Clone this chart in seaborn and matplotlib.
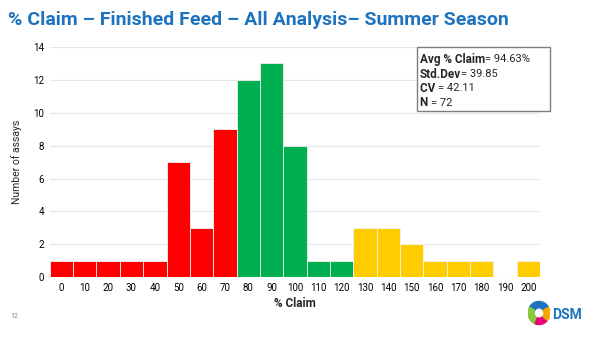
import matplotlib
matplotlib.use("Agg")
import matplotlib.pyplot as plt
import seaborn as sns
import pandas as pd
from matplotlib.patches import Rectangle, Wedge

claim_bins = [0, 10, 20, 30, 40, 50, 60, 70, 80, 90, 100, 110, 120, 130, 140, 150, 160, 170, 180, 190, 200]
counts = [1, 1, 1, 1, 1, 7, 3, 9, 12, 13, 8, 1, 1, 3, 3, 2, 1, 1, 1, 0, 1]
zone = ["low"] * 8 + ["ok"] * 5 + ["high"] * 8
zone_colors = {"low": "#FF0000", "ok": "#00B050", "high": "#FFCC00"}
stats_labels = ["Avg % Claim", "Std.Dev", "CV ", "N "]
stats_values = ["= 94.63%", "= 39.85", "= 42.11", "= 72"]

sns.set_theme(style="white")
plt.rcParams['font.family'] = ['Roboto', 'DejaVu Sans']

df = pd.DataFrame({"bin": [str(b) for b in claim_bins], "count": counts, "zone": zone})

fig = plt.figure(figsize=(6, 3.38), dpi=100)
ax = fig.add_axes([0.083, 0.180, 0.817, 0.681])
sns.barplot(data=df, x="bin", y="count", hue="zone", palette=zone_colors,
            width=1.0, dodge=False, legend=False, ax=ax, saturation=1,
            edgecolor="#f2f2f2", linewidth=0.6, order=df["bin"])
ax.set_xlim(-0.5, len(claim_bins) - 0.5)
ax.set_ylim(0, 14)
ax.set_yticks(range(0, 15, 2))
ax.yaxis.grid(True, color="#e6e6e6", linewidth=0.8)
ax.set_axisbelow(True)
for s in ax.spines.values():
    s.set_visible(False)
ax.tick_params(axis="both", labelsize=7, length=0, pad=4, colors="black")
ax.set_xlabel("% Claim", fontsize=8.5, fontweight="bold", labelpad=3)
ax.set_ylabel("Number of assays", fontsize=7.5, labelpad=8)

fig.text(8/600, 1 - 20/338, "% Claim \u2013 Finished Feed \u2013 All Analysis\u2013 Summer Season",
         fontsize=14, fontweight="bold", color="#1F73BE", va="center", ha="left")
fig.text(10/600, 1 - 316/338, "12", fontsize=5, color="#888888", va="center")

# stats box
bx0, by0, bx1, by1 = 417/600, 1 - 111/338, 550/600, 1 - 47/338
fig.patches.append(Rectangle((bx0, by0), bx1 - bx0, by1 - by0, transform=fig.transFigure,
                             facecolor="white", edgecolor="#7f7f7f", linewidth=1.0, zorder=5))
fig.canvas.draw()
renderer = fig.canvas.get_renderer()
line_h = 14.5 / 338
for i, (lab, val) in enumerate(zip(stats_labels, stats_values)):
    y = 1 - (59.5 / 338) - i * line_h
    t = fig.text(420/600, y, lab, fontsize=8.5, fontweight="bold", va="center", ha="left", zorder=6)
    bb = t.get_window_extent(renderer)
    x1 = fig.transFigure.inverted().transform((bb.x1, bb.y0))[0]
    fig.text(x1, y, val, fontsize=8, va="center", ha="left", zorder=6)

# DSM logo approximation
lax = fig.add_axes([528/600, 1 - 328/338, 22/600, 30/338])
lax.set_xlim(-1, 1); lax.set_ylim(-1.3, 1.3); lax.axis("off")
lax.add_patch(Wedge((0, 0), 1.0, 30, 150, width=0.55, color="#1F73BE"))
lax.add_patch(Wedge((0, 0), 1.0, 150, 250, width=0.55, color="#8DC63F"))
lax.add_patch(Wedge((0, 0), 1.0, 250, 320, width=0.55, color="#E6007E"))
lax.add_patch(Wedge((0, 0), 1.0, 320, 390, width=0.55, color="#F7A600"))
fig.text(552/600, 1 - 315/338, "DSM", fontsize=10, fontweight="bold", color="#1F73BE",
         va="center", ha="left")

fig.savefig("out.png", dpi=100)
